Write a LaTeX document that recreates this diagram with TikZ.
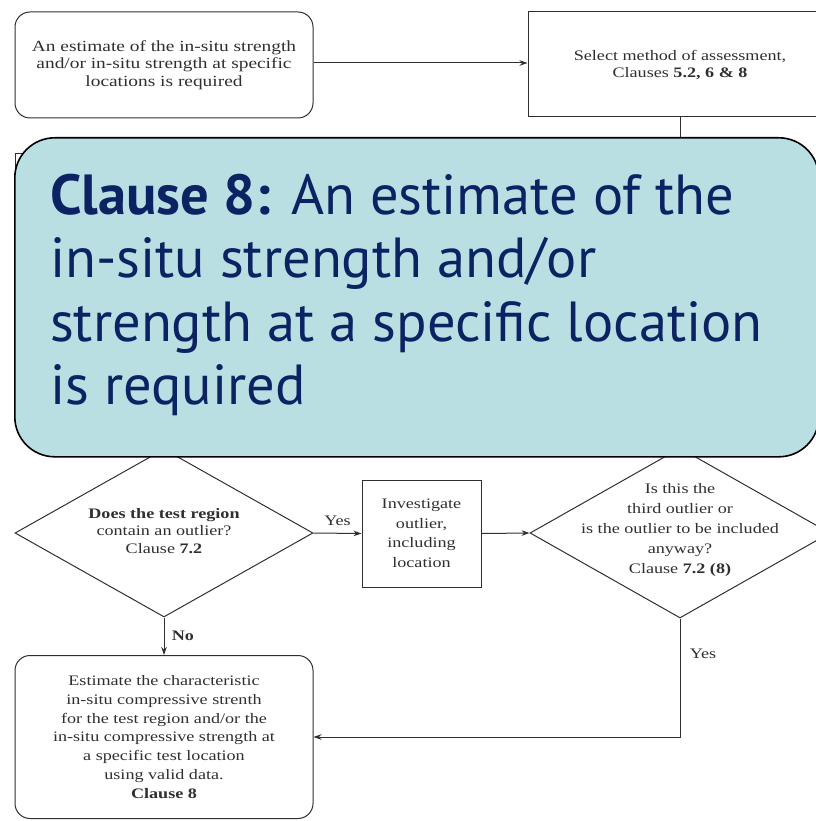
\documentclass[tikz,border=0pt]{standalone}
\usepackage{fontspec}
\setmainfont[FakeStretch=1.25]{Liberation Serif}
\newfontfamily\slidefont{PT Sans}
\usetikzlibrary{positioning, arrows.meta, shapes.geometric}
\definecolor{slideTeal}{HTML}{B9DFE3}
\definecolor{slideNavy}{HTML}{0B2263}
\definecolor{chartInk}{HTML}{2F2F2F}

\begin{document}
\begin{tikzpicture}[x=1pt, y=-1pt,
    flow/.style={draw=chartInk, line width=1pt, inner sep=0pt},
    roundbox/.style={flow, rounded corners=15pt},
    decision/.style={flow, diamond},
    chartText/.style={text=chartInk, align=center,
      font=\fontsize{14.5}{17.5}\selectfont},
    link/.style={draw=chartInk, line width=1pt,
      -{Stealth[length=8pt, width=5.5pt]}},
    plain/.style={draw=chartInk, line width=1pt}]
    \useasboundingbox (0,0) rectangle (815,821);
    % ---- top row ----
    \node[roundbox, minimum width=298pt, minimum height=106pt] (start)
      at (164,65) {};
    \node[chartText, font=\fontsize{15.5}{17.5}\selectfont] (startText)
      at (start) {An estimate of the in-situ strength\\
      and/or in-situ strength at specific\\ locations is required};
    \node[flow, minimum width=302pt, minimum height=105pt] (select)
      at (679,64.5) {};
    \node[chartText] (selectText) at (680,65)
      {Select method of assessment,\\ Clauses \textbf{5.2, 6 \& 8}};
    \draw[link] (start.east |- 0,63) -- (select.west |- 0,63);
    \coordinate (selectDrop) at (680,220);
    \draw[plain] (select.south -| selectDrop) -- (selectDrop);
    \node[flow, minimum width=298pt, minimum height=110pt, anchor=north west]
      (screened) at (15,153) {};
    % ---- outlier checks ----
    \node[decision, minimum width=298pt, minimum height=168pt] (outlier)
      at (164,533) {};
    \node[chartText] (outlierText) at (164,531)
      {\textbf{Does the test region}\\ contain an outlier?\\ Clause \textbf{7.2}};
    \node[flow, minimum width=119pt, minimum height=107pt] (investigate)
      at (421.5,533.5) {};
    \node[chartText, font=\fontsize{14.5}{19.5}\selectfont] (investigateText)
      at (investigate) {Investigate\\ outlier,\\ including\\ location};
    \node[decision, minimum width=300pt, minimum height=170pt] (third)
      at (680,533) {};
    \node[chartText, font=\fontsize{14.5}{20}\selectfont] (thirdText) at (680,530)
      {Is this the\\ third outlier or\\ is the outlier to be included\\
       anyway?\\ Clause \textbf{7.2 (8)}};
    \draw[link] (outlier.east) -- node[chartText, above=4pt] {Yes}
      (investigate.west);
    \draw[link] (investigate.east) -- (third.west);
    % ---- result ----
    \node[roundbox, minimum width=298pt, minimum height=163pt] (estimate)
      at (164,737) {};
    \node[chartText, font=\fontsize{14.5}{18.7}\selectfont] (estimateText)
      at (164,737) {Estimate the characteristic\\ in-situ compressive strenth\\
      for the test region and/or the\\ in-situ compressive strength at\\
      a specific test location\\ using valid data.\\ \textbf{Clause 8}};
    \draw[link] (outlier.south) -- node[chartText, right=4pt] {\textbf{No}}
      (estimate.north);
    \draw[link] (third.south) -- node[chartText, pos=0.3, right=6pt] {Yes}
      (third.south |- estimate.east) -- (estimate.east);
    % ---- slide callout ----
    \node[draw=black, line width=1.6pt, fill=slideTeal, rounded corners=40pt,
      minimum width=804pt, minimum height=319pt, anchor=north west]
      (callout) at (14,137) {};
    \node[anchor=north west, inner sep=0pt, align=left, text=slideNavy,
      font=\slidefont\fontsize{56.5}{63.3}\selectfont] (calloutText) at (50,174)
      {\textbf{Clause 8:} An estimate of the\\ in-situ strength and/or\\
       strength at a specific location\\ is required};
\end{tikzpicture}
\end{document}
